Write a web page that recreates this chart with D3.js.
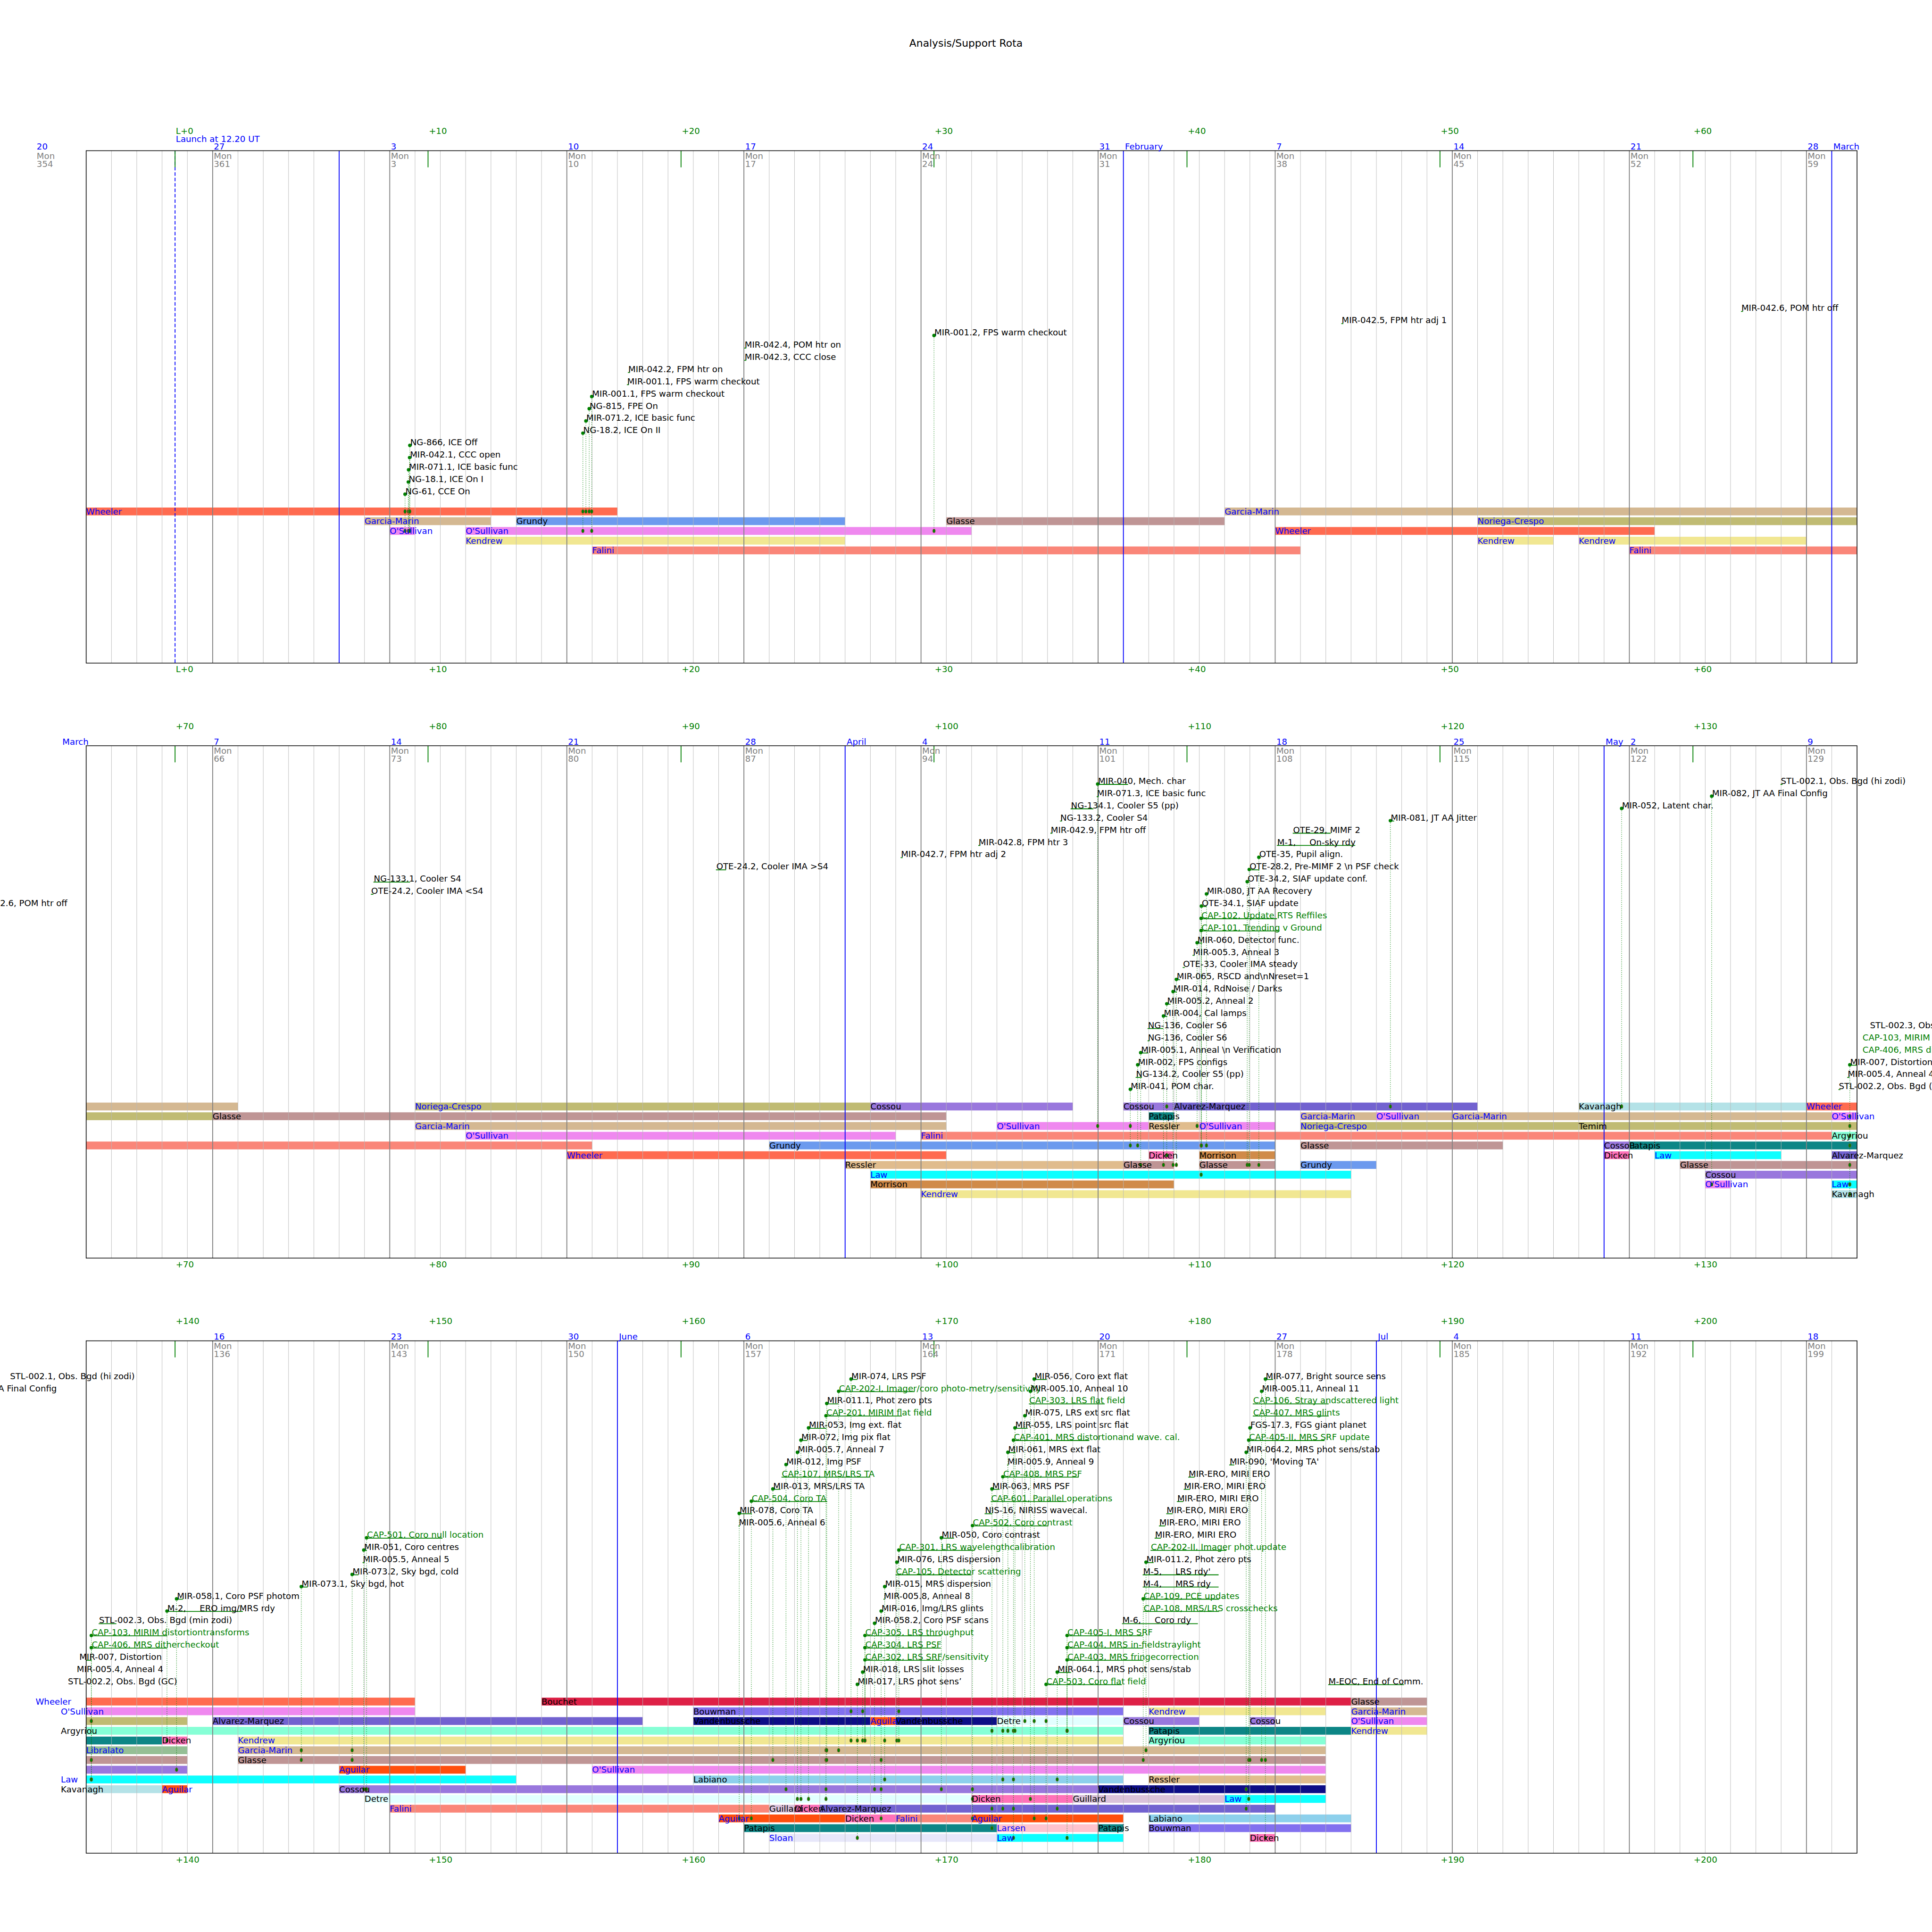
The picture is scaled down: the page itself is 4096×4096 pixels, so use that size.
<!DOCTYPE html>
<html><head><meta charset="utf-8">
<script src="https://cdn.jsdelivr.net/npm/d3@7"></script>
<style>
body{margin:0;background:#fff}
text{font-family:"DejaVu Sans","Liberation Sans",sans-serif;white-space:pre}
</style></head>
<body><svg id="chart"></svg>
<script>
// ---------------- DATA ----------------
const title = "Analysis/Support Rota";
const launchUTC = "2021-12-25T12:20:00Z";
const panelStarts = ["2021-12-22", "2022-03-02", "2022-05-11"];
const panelLength = 70;              // days per panel
const gridStart = "2021-12-20", gridEnd = "2022-07-21";
const lTicks = [0,10,20,30,40,50,60,70,80,90,100,110,120,130,140,150,160,170,180,190,200];
const monthLabels = [["2022-02-01","February"],["2022-03-01","March"],["2022-04-01","April"],
                     ["2022-05-01","May"],["2022-06-01","June"],["2022-07-01","Jul"]];
const people = ["Wheeler","Garcia-Marin","Grundy","Glasse","Noriega-Crespo","O'Sullivan","Kendrew","Falini",
  "Cossou","Alvarez-Marquez","Patapis","Ressler","Law","Morrison","Dicken","Kavanagh","Temim","Argyriou",
  "Libralato","Aguilar","Labiano","Bouchet","Bouwman","Vandenbussche","Detre","Guillard","Larsen","Sloan"];
const peopleColors = ["tomato","tan","cornflowerblue","rosybrown","darkkhaki","violet","khaki","salmon",
  "mediumpurple","slateblue","teal","burlywood","cyan","peru","hotpink","powderblue","darkkhaki","aquamarine",
  "darkseagreen","orangered","skyblue","crimson","mediumslateblue","navy","lightcyan","thistle","pink","lavender"];
const blueNames = ["Wheeler","Garcia-Marin","O'Sullivan","Kendrew","Falini","Noriega-Crespo","Law","Libralato","Aguilar","Larsen","Sloan"];

// [person, start, end, lane]
const bars = [
["Wheeler","2021-12-22","2022-01-12",0],["Garcia-Marin","2022-01-02","2022-01-07",1],["Grundy","2022-01-08","2022-01-21",1],
["Glasse","2022-01-25","2022-02-05",1],["O'Sullivan","2022-01-03","2022-01-04",2],["O'Sullivan","2022-01-06","2022-01-26",2],
["Kendrew","2022-01-06","2022-01-21",3],["Falini","2022-01-11","2022-02-08",4],["Garcia-Marin","2022-02-05","2022-03-08",0],
["Noriega-Crespo","2022-02-15","2022-03-07",1],["Wheeler","2022-02-07","2022-02-22",2],["Kendrew","2022-02-15","2022-02-18",3],
["Kendrew","2022-02-19","2022-02-28",3],["Falini","2022-02-21","2022-03-22",4],
["Noriega-Crespo","2022-03-15","2022-04-02",0],["Cossou","2022-04-02","2022-04-10",0],["Cossou","2022-04-12","2022-04-14",0],
["Alvarez-Marquez","2022-04-14","2022-04-26",0],["Kavanagh","2022-04-30","2022-05-09",0],["Wheeler","2022-05-09","2022-05-24",0],
["Glasse","2022-03-07","2022-04-05",1],["Patapis","2022-04-13","2022-04-14",1],["Garcia-Marin","2022-04-19","2022-04-25",1],
["O'Sullivan","2022-04-22","2022-04-23",1],["Garcia-Marin","2022-04-25","2022-05-10",1],["O'Sullivan","2022-05-10","2022-05-24",1],
["Garcia-Marin","2022-03-15","2022-04-05",2],["O'Sullivan","2022-04-07","2022-04-13",2],["Ressler","2022-04-13","2022-04-15",2],
["O'Sullivan","2022-04-15","2022-04-18",2],["Noriega-Crespo","2022-04-19","2022-04-30",2],["Temim","2022-04-30","2022-05-15",2],
["O'Sullivan","2022-03-17","2022-04-03",3],["Falini","2022-04-04","2022-05-10",3],["Argyriou","2022-05-10","2022-06-21",3],
["Grundy","2022-03-29","2022-04-18",4],["Glasse","2022-04-19","2022-04-27",4],["Cossou","2022-05-01","2022-05-02",4],
["Patapis","2022-05-02","2022-05-14",4],
["Wheeler","2022-03-21","2022-04-05",5],["Dicken","2022-04-13","2022-04-14",5],["Morrison","2022-04-15","2022-04-18",5],
["Dicken","2022-05-01","2022-05-02",5],["Law","2022-05-03","2022-05-08",5],["Alvarez-Marquez","2022-05-10","2022-05-11",5],
["Ressler","2022-04-01","2022-04-12",6],["Glasse","2022-04-12","2022-04-14",6],["Glasse","2022-04-15","2022-04-18",6],
["Grundy","2022-04-19","2022-04-22",6],["Glasse","2022-05-04","2022-05-15",6],
["Law","2022-04-02","2022-04-21",7],["Cossou","2022-05-05","2022-05-15",7],
["Morrison","2022-04-02","2022-04-14",8],["O'Sullivan","2022-05-05","2022-05-06",8],["Law","2022-05-10","2022-05-28",8],
["Kendrew","2022-04-04","2022-04-21",9],["Kavanagh","2022-05-10","2022-05-14",9],
["Bouchet","2022-05-29","2022-06-30",0],["Glasse","2022-06-30","2022-07-03",0],
["Bouwman","2022-06-04","2022-06-21",1],["Kendrew","2022-06-22","2022-06-29",1],["Garcia-Marin","2022-06-30","2022-07-03",1],
["Alvarez-Marquez","2022-05-16","2022-06-02",2],["Vandenbussche","2022-06-04","2022-06-11",2],["Aguilar","2022-06-11","2022-06-12",2],
["Vandenbussche","2022-06-12","2022-06-16",2],["Detre","2022-06-16","2022-06-21",2],["Cossou","2022-06-21","2022-06-24",2],
["Cossou","2022-06-26","2022-06-27",2],["O'Sullivan","2022-06-30","2022-07-03",2],
["Patapis","2022-06-22","2022-06-30",3],["Kendrew","2022-06-30","2022-07-03",3],
["Dicken","2022-05-14","2022-05-15",4],["Kendrew","2022-05-17","2022-06-21",4],["Argyriou","2022-06-22","2022-06-29",4],
["Libralato","2022-05-11","2022-05-15",5],["Garcia-Marin","2022-05-17","2022-06-29",5],
["Glasse","2022-05-17","2022-06-29",6],
["Aguilar","2022-05-21","2022-05-26",7],["O'Sullivan","2022-05-31","2022-06-29",7],
["Labiano","2022-06-04","2022-06-21",8],["Ressler","2022-06-22","2022-06-29",8],
["Aguilar","2022-05-14","2022-05-15",9],["Cossou","2022-05-21","2022-06-20",9],["Vandenbussche","2022-06-20","2022-06-29",9],
["Detre","2022-05-22","2022-06-15",10],["Dicken","2022-06-15","2022-06-19",10],["Guillard","2022-06-19","2022-06-25",10],
["Law","2022-06-25","2022-06-29",10],
["Falini","2022-05-23","2022-06-07",11],["Guillard","2022-06-07","2022-06-08",11],["Dicken","2022-06-08","2022-06-09",11],
["Alvarez-Marquez","2022-06-09","2022-06-27",11],
["Aguilar","2022-06-05","2022-06-10",12],["Dicken","2022-06-10","2022-06-12",12],["Falini","2022-06-12","2022-06-15",12],
["Aguilar","2022-06-15","2022-06-21",12],["Labiano","2022-06-22","2022-06-30",12],
["Patapis","2022-06-06","2022-06-16",13],["Larsen","2022-06-16","2022-06-20",13],["Patapis","2022-06-20","2022-06-21",13],
["Bouwman","2022-06-22","2022-06-30",13],
["Sloan","2022-06-07","2022-06-16",14],["Law","2022-06-16","2022-06-21",14],["Dicken","2022-06-26","2022-06-27",14]
];

// [label, start (days after launch), duration (days), lanes marked (null = none)]
const events = [
["NG-61, CCE On",9.09,0.08,[0,2]],["NG-18.1, ICE On I",9.22,0.08,[0,2]],["MIR-071.1, ICE basic func",9.23,0.08,[0,2]],
["MIR-042.1, CCC open",9.27,0.08,[0,2]],["NG-866, ICE Off",9.28,0.08,[0,2]],["NG-18.2, ICE On II",16.12,0.08,[0,2]],
["MIR-071.2, ICE basic func",16.24,0.08,[0]],["NG-815, FPE On",16.37,0.08,[0]],["MIR-001.1, FPS warm checkout",16.47,0.08,[0,2]],
["MIR-001.1, FPS warm checkout",17.86,0.08,null],["MIR-042.2, FPM htr on",17.9,0.08,null],["MIR-042.3, CCC close",22.5,0.08,null],
["MIR-042.4, POM htr on",22.5,0.08,null],["MIR-001.2, FPS warm checkout",30.0,0.08,[2]],["MIR-042.5, FPM htr adj 1",46.1,0.08,null],
["MIR-042.6, POM htr off",61.9,0.08,null],["OTE-24.2, Cooler IMA <S4",77.74,0.1,null],["NG-133.1, Cooler S4",77.84,1.45,null],
["OTE-24.2, Cooler IMA >S4",91.38,0.4,null],["MIR-042.7, FPM htr adj 2",98.68,0.08,null],["MIR-042.8, FPM htr 3",101.75,0.08,null],
["MIR-042.9, FPM htr off",104.6,0.08,null],["NG-133.2, Cooler S4",104.98,0.08,null],["NG-134.1, Cooler S5 (pp)",105.4,0.9,null],
["MIR-071.3, ICE basic func",106.43,0.08,null],["MIR-040, Mech. char",106.47,1.2,[2]],
["MIR-041, POM char.",107.76,0.08,[2,4]],["NG-134.2, Cooler S5 (pp)",107.97,0.25,null],["MIR-002, FPS configs",108.05,0.08,[4]],
["MIR-005.1, Anneal \\n Verification",108.17,0.3,[6]],["NG-136, Cooler S6",108.44,0.08,null],["NG-136, Cooler S6",108.44,0.62,null],
["MIR-004, Cal lamps",109.07,0.15,[6]],["MIR-005.2, Anneal 2",109.2,0.15,[0,5]],["MIR-014, RdNoise / Darks",109.45,0.15,[6]],
["MIR-065, RSCD and\\nNreset=1",109.58,0.15,[6]],["OTE-33, Cooler IMA steady",109.83,0.08,null],["MIR-005.3, Anneal 3",110.22,0.08,null],
["MIR-060, Detector func.",110.4,0.2,[2]],["CAP-101, Trending v Ground",110.56,3.1,[4,7]],["CAP-102, Update RTS Reffiles",110.56,3.0,[4]],
["OTE-34.1, SIAF update",110.57,0.2,[4]],["MIR-080, JT AA Recovery",110.77,0.08,[4]],["OTE-34.2, SIAF update conf.",112.38,0.08,[6]],
["OTE-28.2, Pre-MIMF 2 \\n PSF check",112.46,0.4,[6]],["OTE-35, Pupil align.",112.84,0.08,[6]],["M-1,     On-sky rdy",113.55,3.1,null],
["OTE-29, MIMF 2",114.18,1.5,null],["MIR-081, JT AA Jitter",118.04,0.15,[0]],["MIR-052, Latent char.",127.18,0.08,[0]],
["MIR-082, JT AA Final Config",130.74,0.08,[8]],["STL-002.1, Obs. Bgd (hi zodi)",133.46,0.08,null],
["STL-002.2, Obs. Bgd (GC)",135.75,0.08,null],["MIR-005.4, Anneal 4",136.1,0.08,null],["MIR-007, Distortion",136.2,0.5,[1,2,3,4,6,8,9]],
["CAP-406, MRS dithercheckout",136.69,3,[2,6,8]],["CAP-103, MIRIM distortiontransforms",136.69,3,[2,6,8]],
["STL-002.3, Obs. Bgd (min zodi)",136.98,0.7,null],["M-2,     ERO img/MRS rdy",139.68,3,[4]],["MIR-058.1, Coro PSF photom",140.06,0.25,[7]],
["MIR-073.1, Sky bgd, hot",144.99,0.25,[5,6]],["MIR-073.2, Sky bgd, cold",147.0,0.25,[5,6]],["MIR-005.5, Anneal 5",147.41,0.08,null],
["MIR-051, Coro centres",147.46,0.12,[9]],["CAP-501, Coro null location",147.57,3,[9]],["MIR-005.6, Anneal 6",162.27,0.05,null],
["MIR-078, Coro TA",162.3,0.5,[12]],["CAP-504, Coro TA",162.78,3,[12]],["MIR-013, MRS/LRS TA",163.63,0.3,[6]],
["CAP-107, MRS/LRS TA",163.97,3.5,null],["MIR-012, Img PSF",164.15,0.08,[9]],["MIR-005.7, Anneal 7",164.6,0.08,[10]],
["MIR-072, Img pix flat",164.74,0.25,[10]],["MIR-053, Img ext. flat",165.04,0.7,[10]],["CAP-201, MIRIM flat field",165.73,3,[5,6,9,10]],
["MIR-011.1, Phot zero pts",165.76,0.45,[5,6]],["CAP-202-I, Imager/coro photo-metry/sensitivity",166.23,3,[5]],
["MIR-074, LRS PSF",166.72,0.25,[1,4]],
["MIR-017, LRS phot sens\u2019",166.97,0.08,[4,14]],["MIR-018, LRS slit losses",167.18,0.08,[1,4]],["CAP-302, LRS SRF/sensitivity",167.27,3,[4]],
["CAP-304, LRS PSF",167.27,3,[4]],["CAP-305, LRS throughput",167.27,3,[4]],["MIR-058.2, Coro PSF scans",167.65,0.08,[9]],
["MIR-016, Img/LRS glints",167.91,0.08,[6,9,12]],["MIR-005.8, Anneal 8",168.0,0.05,null],["MIR-015, MRS dispersion",168.05,0.08,[4,8]],
["CAP-105, Detector scattering",168.48,3,null],["MIR-076, LRS dispersion",168.53,0.08,[4]],["CAP-301, LRS wavelengthcalibration",168.61,3,[1,4]],
["MIR-050, Coro contrast",170.29,0.5,[9]],["CAP-502, Coro contrast",171.52,3,[9,10,12]],["NIS-16, NIRISS wavecal.",172.0,0.3,null],
["CAP-601, Parallel operations",172.24,3,null],["MIR-063, MRS PSF",172.29,0.3,[3,11,13]],["CAP-408, MRS PSF",172.72,3,[3,8,11]],
["MIR-005.9, Anneal 9",172.89,0.05,null],["MIR-061, MRS ext flat",172.92,0.3,[3]],["CAP-401, MRS distortionand wave. cal.",173.14,3,[3,8,11,14]],
["MIR-055, LRS point src flat",173.2,0.5,[3]],["MIR-075, LRS ext src flat",173.59,0.08,[2]],["CAP-303, LRS flat field",173.75,3,null],
["MIR-005.10, Anneal 10",173.81,0.08,[10]],["MIR-056, Coro ext flat",173.96,0.5,[2,12]],
["CAP-503, Coro flat field",174.43,3,[2,12]],["MIR-064.1, MRS phot sens/stab",174.87,0.55,[8,11]],["CAP-403, MRS fringecorrection",175.26,3,[3,14]],
["CAP-404, MRS in-fieldstraylight",175.26,3,[3]],["CAP-405-I, MRS SRF",175.26,3,[3]],["M-6,     Coro rdy",177.43,3,null],
["CAP-108, MRS/LRS crosschecks",178.27,3,null],["CAP-109, PCE updates",178.27,3,[6]],["M-4,     MRS rdy",178.25,3,null],
["M-5,     LRS rdy'",178.25,3,null],["MIR-011.2, Phot zero pts",178.38,0.3,[5]],["CAP-202-II, Imager phot.update",178.56,3,null],
["MIR-ERO, MIRI ERO",178.72,0.25,null],["MIR-ERO, MIRI ERO",178.89,0.25,null],["MIR-ERO, MIRI ERO",179.18,0.25,null],
["MIR-ERO, MIRI ERO",179.6,0.25,null],["MIR-ERO, MIRI ERO",179.87,0.25,null],["MIR-ERO, MIRI ERO",180.05,0.25,null],
["MIR-090, 'Moving TA'",181.67,0.2,null],["MIR-064.2, MRS phot sens/stab",182.34,0.08,[9,11]],["CAP-405-II, MRS SRF update",182.44,3,[6,10]],
["FGS-17.3, FGS giant planet",182.49,0.08,[6]],["CAP-407, MRS glints",182.6,3,null],["CAP-106, Stray andscattered light",182.6,3,null],
["MIR-005.11, Anneal 11",182.95,0.08,[6]],["MIR-077, Bright source sens",183.1,0.3,[6,14]],
["M-EOC, End of Comm.",185.58,3,null]
];
const levelsPerCycle = 26;

// ---------------- LAYOUT (reference units, 5000 x 5000) ----------------
const VB = 5000, OUT = 4096;
const X0 = 223, X1 = 4806, TOPS = [390, 1930, 3470], PH = 1326;
const ROW0 = 923.5, ROWP = 25.2, BARH = 20.3, LEV0 = 889, LEVP = 31.6;
const FS = 22.2;

const LAUNCH = Date.parse(launchUTC), DAY = 864e5;
const parse = s => { const [y,m,d] = s.split("-").map(Number); return Date.UTC(y, m-1, d); };
const dayOf = s => (parse(s) - LAUNCH) / DAY;
const tOf = d => (d.getTime() - LAUNCH) / DAY;

const svg = d3.select("#chart").attr("width", OUT).attr("height", OUT)
  .attr("viewBox", `0 0 ${VB} ${VB}`);
svg.append("rect").attr("width", VB).attr("height", VB).attr("fill", "white");
svg.append("text").attr("x", 2500).attr("y", 121).attr("text-anchor", "middle")
  .attr("font-size", 26.7).text(title);

const color = d3.scaleOrdinal().domain(people).range(peopleColors);
const allDays = d3.utcDay.range(new Date(parse(gridStart)), new Date(parse(gridEnd))).map(tOf);
const mondays = d3.utcMonday.range(new Date(parse(gridStart)), new Date(parse(gridEnd)));
const monthStarts = d3.utcMonth.range(new Date(parse("2022-01-01")), new Date(parse(gridEnd))).map(tOf);
const fmtDoy = d3.utcFormat("%j"), fmtDom = d3.utcFormat("%e");
const defs = svg.append("defs");

panelStarts.forEach((ps, p) => {
  const t0 = dayOf(ps), t1 = t0 + panelLength;
  const prevEnd = p ? dayOf(panelStarts[p-1]) + panelLength : -Infinity;
  const top = TOPS[p], bottom = top + PH;
  const x = d3.scaleLinear().domain([t0, t1]).range([X0, X1]);
  const rowY = d3.scaleLinear().domain([0, 1]).range([top + ROW0, top + ROW0 + ROWP]);
  const levY = d3.scaleLinear().domain([0, 1]).range([top + LEV0, top + LEV0 - LEVP]);

  const cid = "clip" + p;
  defs.append("clipPath").attr("id", cid).append("rect")
    .attr("x", X0).attr("y", top).attr("width", X1 - X0).attr("height", PH);
  const g = svg.append("g");
  const gc = g.append("g").attr("clip-path", `url(#${cid})`);

  // bars
  const vis = bars.filter(b => dayOf(b[2]) > t0 && dayOf(b[1]) < t1);
  gc.append("g").selectAll("rect").data(vis).join("rect")
    .attr("x", b => x(dayOf(b[1]))).attr("width", b => x(dayOf(b[2])) - x(dayOf(b[1])))
    .attr("y", b => rowY(b[3])).attr("height", BARH)
    .attr("fill", b => color(b[0])).attr("fill-opacity", 0.95);

  // grid: days, mondays, months
  const inR = v => v >= t0 - 0.01 && v <= t1 + 0.01;
  gc.append("g").selectAll("line").data(allDays.filter(inR)).join("line")
    .attr("x1", d => x(d)).attr("x2", d => x(d)).attr("y1", top).attr("y2", bottom)
    .attr("stroke", "#b8b8b8").attr("stroke-width", 1.1);
  gc.append("g").selectAll("line").data(mondays.map(tOf).filter(inR)).join("line")
    .attr("x1", d => x(d)).attr("x2", d => x(d)).attr("y1", top).attr("y2", bottom)
    .attr("stroke", "#808080").attr("stroke-width", 2.2);
  gc.append("g").selectAll("line").data(monthStarts.filter(inR)).join("line")
    .attr("x1", d => x(d)).attr("x2", d => x(d)).attr("y1", top).attr("y2", bottom)
    .attr("stroke", "blue").attr("stroke-width", 2.2);
  if (inR(0)) {
    gc.append("line").attr("x1", x(0)).attr("x2", x(0)).attr("y1", top).attr("y2", bottom)
      .attr("stroke", "blue").attr("stroke-width", 2.2).attr("stroke-dasharray", "9,5");
  }
  const lt = lTicks.filter(v => v >= t0 && v <= t1);
  gc.append("g").selectAll("line").data(lt).join("line")
    .attr("x1", d => x(d)).attr("x2", d => x(d)).attr("y1", top).attr("y2", top + 43)
    .attr("stroke", "green").attr("stroke-width", 2.2);

  // bar labels
  g.append("g").selectAll("text").data(vis).join("text")
    .attr("x", b => x(dayOf(b[1]))).attr("y", b => rowY(b[3]) + BARH / 2 + 7.8)
    .attr("font-size", FS).attr("fill", b => blueNames.includes(b[0]) ? "blue" : "black")
    .text(b => b[0]);

  // frame
  g.append("rect").attr("x", X0).attr("y", top).attr("width", X1 - X0).attr("height", PH)
    .attr("fill", "none").attr("stroke", "black").attr("stroke-width", 1.8);

  // header: L+ ticks
  const lbl = v => v === 0 ? "L+0" : "+" + v;
  g.append("g").selectAll("text").data(lt).join("text")
    .attr("x", d => x(d) + 2).attr("y", top - 43).attr("font-size", FS).attr("fill", "green").text(lbl);
  g.append("g").selectAll("text").data(lt).join("text")
    .attr("x", d => x(d) + 2).attr("y", bottom + 24).attr("font-size", FS).attr("fill", "green").text(lbl);
  if (inR(0)) {
    g.append("text").attr("x", x(0) + 2).attr("y", top - 22).attr("font-size", FS)
      .attr("fill", "blue").text("Launch at 12.20 UT");
  }
  // Monday labels
  const pm = mondays.filter(d => tOf(d) < t1 && tOf(d) >= prevEnd);
  const mg = g.append("g").selectAll("g").data(pm).join("g")
    .attr("transform", d => `translate(${x(tOf(d)) + 3},0)`);
  mg.append("text").attr("y", top - 3).attr("font-size", FS).attr("fill", "blue").text(d => fmtDom(d).trim());
  mg.append("text").attr("y", top + 21).attr("font-size", FS).attr("fill", "gray").text("Mon");
  mg.append("text").attr("y", top + 42).attr("font-size", FS).attr("fill", "gray").text(d => String(+fmtDoy(d)));
  // month labels
  g.append("g").selectAll("text").data(monthLabels).join("text")
    .attr("x", d => x(dayOf(d[0])) + 4).attr("y", top - 3).attr("font-size", FS)
    .attr("fill", "blue").text(d => d[1]);

  // annotations
  const ev = events.map((e, i) => ({ text: e[0], t: e[1], dur: e[2], rows: e[3], lev: i % levelsPerCycle }))
    .filter(e => x(e.t) > -2000 && x(e.t) < VB + 100);
  const ga = gc.append("g");
  ev.filter(e => e.rows).forEach(e => {
    const mx = d3.max(e.rows);
    ga.append("line").attr("x1", x(e.t)).attr("x2", x(e.t))
      .attr("y1", levY(e.lev)).attr("y2", rowY(mx) + BARH / 2)
      .attr("stroke", "green").attr("stroke-width", 1.5).attr("stroke-dasharray", "2.2,3.3").attr("stroke-opacity", 0.75);
    e.rows.forEach(r => {
      ga.append("ellipse").attr("cx", x(e.t)).attr("cy", rowY(r) + BARH / 2).attr("rx", 3.5).attr("ry", 5)
        .attr("fill", "green").attr("stroke", "#c04040").attr("stroke-width", 0.8);
    });
  });
  ga.selectAll("line.ul").data(ev).join("line").attr("class", "ul")
    .attr("x1", e => x(e.t)).attr("x2", e => x(e.t + e.dur))
    .attr("y1", e => levY(e.lev) + 1).attr("y2", e => levY(e.lev) + 1)
    .attr("stroke", "green").attr("stroke-width", 2.2);
  ga.selectAll("circle").data(ev.filter(e => e.rows)).join("circle")
    .attr("cx", e => x(e.t)).attr("cy", e => levY(e.lev)).attr("r", 4.5).attr("fill", "green");
  g.append("g").selectAll("text").data(ev).join("text")
    .attr("x", e => x(e.t) + 1).attr("y", e => levY(e.lev)).attr("font-size", FS)
    .attr("fill", e => e.text.startsWith("CAP") ? "green" : "black").text(e => e.text);
});

// drop texts that lie wholly outside the page (they would be invisible anyway)
svg.selectAll("text").each(function () {
  const b = this.getBBox();
  const m = this.getCTM ? null : null;
  const parentT = this.parentNode.getAttribute("transform");
  let dx = 0;
  if (parentT) { const mm = /translate\(([-\d.e]+)/.exec(parentT); if (mm) dx = +mm[1]; }
  const left = b.x + dx, right = left + b.width;
  if (left >= VB || right <= 0) d3.select(this).remove();
});
</script></body></html>
